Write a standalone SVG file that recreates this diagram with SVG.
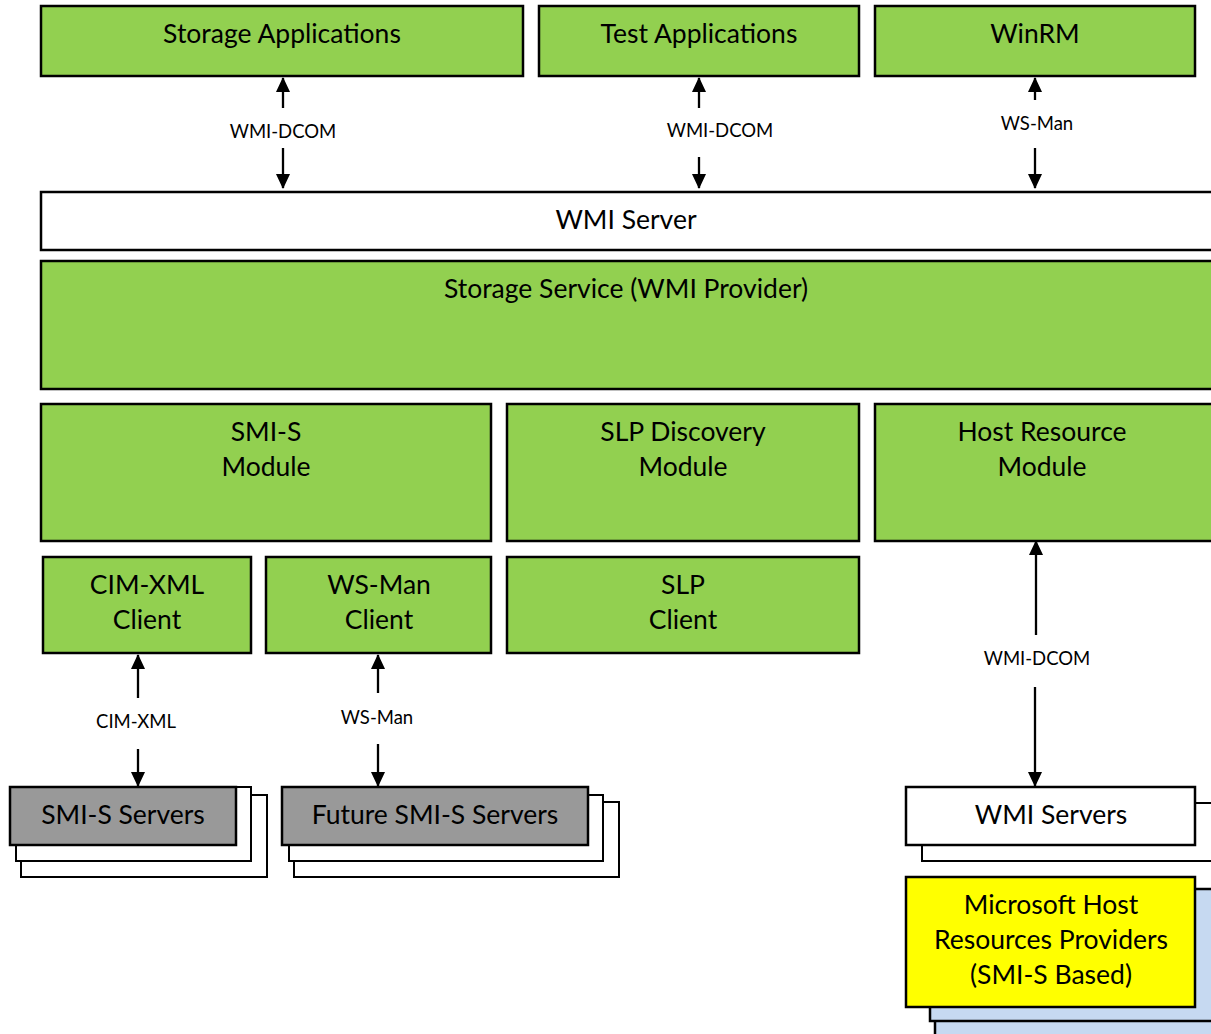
<svg xmlns="http://www.w3.org/2000/svg" width="1211" height="1034" viewBox="0 0 1211 1034">
<defs>
<marker id="ah" viewBox="0 0 15 14" refX="14" refY="7" markerWidth="15" markerHeight="14" markerUnits="userSpaceOnUse" orient="auto-start-reverse">
<path d="M0,0 L15,7 L0,14 Z" fill="#000"/>
</marker>
<style>
.g{fill:#92d050;stroke:#000;stroke-width:2.5}
.w{fill:#fff;stroke:#000;stroke-width:2.5}
.gr{fill:#999;stroke:#000;stroke-width:2.5}
.y{fill:#ffff00;stroke:#000;stroke-width:2.5}
.b{fill:#c6d9f1;stroke:#000;stroke-width:2.5}
.bw{fill:#fff;stroke:#000;stroke-width:2}
text{font-family:Lato,"Open Sans","Liberation Sans",sans-serif;fill:#000;text-anchor:middle}
.t{font-size:26.5px}
.s{font-size:18.5px}
.c{stroke:#000;stroke-width:2.3;fill:none}
</style>
</defs>
<rect width="1211" height="1034" fill="#fff"/>
<g id="storage-apps"><rect class="g" x="41" y="6" width="482" height="70"/><text class="t" x="282" y="43">Storage Applications</text></g>
<g id="test-apps"><rect class="g" x="539" y="6" width="320" height="70"/><text class="t" x="699" y="43">Test Applications</text></g>
<g id="winrm"><rect class="g" x="875" y="6" width="320" height="70"/><text class="t" x="1035" y="43">WinRM</text></g>
<g id="wmi-server"><rect class="w" x="41" y="192" width="1175" height="58"/><text class="t" x="626" y="229">WMI Server</text></g>
<g id="storage-service"><rect class="g" x="41" y="261" width="1175" height="128"/><text class="t" x="626" y="298">Storage Service (WMI Provider)</text></g>
<g id="smis-module"><rect class="g" x="41" y="404" width="450" height="137"/><text class="t" x="266" y="441">SMI-S</text><text class="t" x="266" y="476">Module</text></g>
<g id="slp-module"><rect class="g" x="507" y="404" width="352" height="137"/><text class="t" x="683" y="441">SLP Discovery</text><text class="t" x="683" y="476">Module</text></g>
<g id="host-module"><rect class="g" x="875" y="404" width="341" height="137"/><text class="t" x="1042" y="441">Host Resource</text><text class="t" x="1042" y="476">Module</text></g>
<g id="cimxml-client"><rect class="g" x="43" y="557" width="208" height="96"/><text class="t" x="147" y="594">CIM-XML</text><text class="t" x="147" y="629">Client</text></g>
<g id="wsman-client"><rect class="g" x="266" y="557" width="225" height="96"/><text class="t" x="379" y="594">WS-Man</text><text class="t" x="379" y="629">Client</text></g>
<g id="slp-client"><rect class="g" x="507" y="557" width="352" height="96"/><text class="t" x="683" y="594">SLP</text><text class="t" x="683" y="629">Client</text></g>
<g id="smis-servers">
<rect class="bw" x="21" y="795" width="246" height="82"/>
<rect class="bw" x="16" y="787" width="235" height="74"/>
<rect class="gr" x="10" y="787" width="226" height="58"/>
<text class="t" x="123" y="824">SMI-S Servers</text></g>
<g id="future-smis-servers">
<rect class="bw" x="294" y="802" width="325" height="75"/>
<rect class="bw" x="289" y="795" width="314" height="66"/>
<rect class="gr" x="282" y="787" width="306" height="58"/>
<text class="t" x="435" y="824">Future SMI-S Servers</text></g>
<g id="wmi-servers">
<rect class="bw" x="922" y="803" width="294" height="58"/>
<rect class="w" x="906" y="787" width="289" height="58"/>
<text class="t" x="1051" y="824">WMI Servers</text></g>
<g id="ms-host-providers">
<rect class="b" x="935" y="900" width="281" height="140"/>
<rect class="b" x="930" y="889" width="286" height="132"/>
<rect class="y" x="906" y="877" width="289" height="130"/>
<text class="t" x="1051" y="914">Microsoft Host</text>
<text class="t" x="1051" y="949">Resources Providers</text>
<text class="t" x="1051" y="984">(SMI-S Based)</text></g>
<g id="connectors">
<line class="c" x1="283" y1="108" x2="283" y2="78" marker-end="url(#ah)"/>
<line class="c" x1="283" y1="148" x2="283" y2="188" marker-end="url(#ah)"/>
<text class="s" x="283" y="138">WMI-DCOM</text>
<line class="c" x1="699" y1="108" x2="699" y2="78" marker-end="url(#ah)"/>
<line class="c" x1="699" y1="157" x2="699" y2="188" marker-end="url(#ah)"/>
<text class="s" x="720" y="137">WMI-DCOM</text>
<line class="c" x1="1035" y1="100" x2="1035" y2="78" marker-end="url(#ah)"/>
<line class="c" x1="1035" y1="148" x2="1035" y2="188" marker-end="url(#ah)"/>
<text class="s" x="1037" y="130">WS-Man</text>
<line class="c" x1="138" y1="698" x2="138" y2="655" marker-end="url(#ah)"/>
<line class="c" x1="138" y1="749" x2="138" y2="786" marker-end="url(#ah)"/>
<text class="s" x="136" y="728">CIM-XML</text>
<line class="c" x1="378" y1="693" x2="378" y2="655" marker-end="url(#ah)"/>
<line class="c" x1="378" y1="744" x2="378" y2="786" marker-end="url(#ah)"/>
<text class="s" x="377" y="724">WS-Man</text>
<line class="c" x1="1036" y1="635" x2="1036" y2="541" marker-end="url(#ah)"/>
<line class="c" x1="1035" y1="687" x2="1035" y2="786" marker-end="url(#ah)"/>
<text class="s" x="1037" y="665">WMI-DCOM</text>
</g>
</svg>
